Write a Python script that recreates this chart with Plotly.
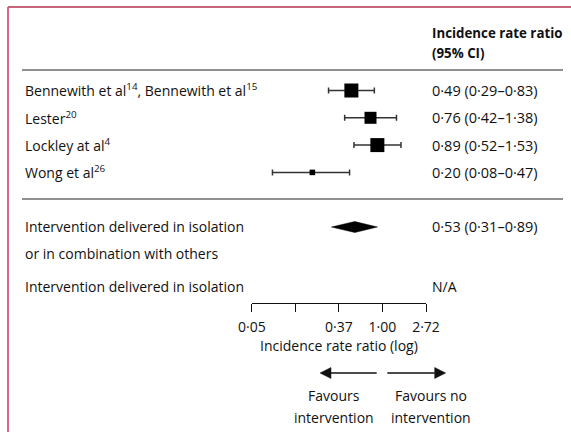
import math
import plotly.graph_objects as go

# ---------------- data ----------------
studies = [
    "Bennewith et al<sup>14</sup>, Bennewith et al<sup>15</sup>",
    "Lester<sup>20</sup>",
    "Lockley at al<sup>4</sup>",
    "Wong et al<sup>26</sup>",
]
irr = [0.49, 0.76, 0.89, 0.20]
ci_low = [0.29, 0.42, 0.52, 0.08]
ci_high = [0.83, 1.38, 1.53, 0.47]
weights = [34.6, 25.4, 34.6, 5.4]  # relative study weights (%)

pooled_label = ["Intervention delivered in isolation", "or in combination with others"]
pooled_irr = 0.53
pooled_low = 0.31
pooled_high = 0.89

isolation_label = "Intervention delivered in isolation"
isolation_value = "N/A"

tick_values = [math.exp(-3), math.exp(-1), 1.0, math.exp(1)]
tick_labels = ["0·05", "0·37", "1·00", "2·72"]
minor_tick_values = [math.exp(-2)]
header = ["Incidence rate ratio", "(95% CI)"]
axis_title = "Incidence rate ratio (log)"
favours_left = ["Favours", "intervention"]
favours_right = ["Favours no", "intervention"]

# ---------------- layout helpers ----------------
W, H = 571, 432
FONT = "Open Sans"
FS = 14
FS_NUM = 14.5
TXT = "#111111"
ROW0, ROWH = 90.5, 27.3


def px(x):
    return x / W


def py(y):
    return 1 - y / H


def fmt(v):
    return f"{v:.2f}".replace(".", "·")


fig = go.Figure()

rows = list(range(len(studies)))
pooled_row = 5

# confidence intervals
fig.add_trace(go.Scatter(
    x=irr, y=rows, mode="markers",
    marker=dict(size=1, color="rgba(0,0,0,0)"),
    error_x=dict(type="data", symmetric=False,
                 array=[h - v for h, v in zip(ci_high, irr)],
                 arrayminus=[v - l for v, l in zip(irr, ci_low)],
                 color="#333333", thickness=1.5, width=3),
    hoverinfo="skip",
))
# point estimates, sized by weight
fig.add_trace(go.Scatter(
    x=irr, y=rows, mode="markers",
    marker=dict(symbol="square", color="#000000", opacity=1,
                size=[2.38 * math.sqrt(w) for w in weights], line=dict(width=0)),
    hoverinfo="skip",
))

# pooled diamond
dh = 5.5 / ROWH
fig.add_trace(go.Scatter(
    x=[pooled_low, pooled_irr, pooled_high, pooled_irr, pooled_low],
    y=[pooled_row, pooled_row - dh, pooled_row, pooled_row + dh, pooled_row],
    mode="lines", fill="toself", fillcolor="black",
    line=dict(color="black", width=0.5), hoverinfo="skip",
))

shapes = [
    # frame
    dict(type="line", xref="paper", yref="paper", x0=px(8), x1=1, y0=py(7), y1=py(7),
         line=dict(color="#b5304f", width=1.5)),
    dict(type="line", xref="paper", yref="paper", x0=px(8), x1=px(8), y0=py(7), y1=0,
         line=dict(color="#d9668a", width=2)),
    # rules
    dict(type="line", xref="paper", yref="paper", x0=px(22), x1=px(563), y0=py(70), y1=py(70),
         line=dict(color="#222", width=1.2)),
    dict(type="line", xref="paper", yref="paper", x0=px(22), x1=px(563), y0=py(199), y1=py(199),
         line=dict(color="#222", width=1.2)),
    # null line
    dict(type="line", xref="x", yref="paper", x0=math.log10(1.0), x1=math.log10(1.0),
         y0=py(71), y1=py(303), line=dict(color="#111", width=1.2, dash="3px,2px")),
]

# direction arrows (line + filled head)
AY = 373
HEAD_L, HEAD_W = 11, 5.5
for tip, tail in [(320, 376.7), (445.7, 387.3)]:
    d = 1 if tail > tip else -1
    base = tip + d * HEAD_L
    shapes.append(dict(type="line", xref="paper", yref="paper",
                       x0=px(base), x1=px(tail), y0=py(AY), y1=py(AY),
                       line=dict(color="#111", width=1.5)))
    shapes.append(dict(type="path", xref="paper", yref="paper",
                       path=(f"M{px(tip)},{py(AY)} L{px(base)},{py(AY - HEAD_W)} "
                             f"L{px(base)},{py(AY + HEAD_W)} Z"),
                       fillcolor="#111", line=dict(color="#111", width=0.5)))

ann = []


def text(s, x, y, anchor="left", bold=False, size=FS):
    ann.append(dict(text=f"<b>{s}</b>" if bold else s, x=px(x), y=py(y),
                    xref="paper", yref="paper", xanchor=anchor, yanchor="middle",
                    showarrow=False, font=dict(family=FONT, size=size, color=TXT)))


text(header[0], 430, 33, bold=True, size=13.3)
text(header[1], 430, 53, bold=True, size=13.3)
for i, s in enumerate(studies):
    ypx = ROW0 + ROWH * i
    text(s, 23, ypx)
    text(f"{fmt(irr[i])} ({fmt(ci_low[i])}–{fmt(ci_high[i])})", 430, ypx, size=FS_NUM)
text(pooled_label[0], 23, 227)
text(pooled_label[1], 23, 253)
text(f"{fmt(pooled_irr)} ({fmt(pooled_low)}–{fmt(pooled_high)})", 430, 227, size=FS_NUM)
text(isolation_label, 23, 286)
text(isolation_value, 430, 286)

text(favours_left[0], 334, 395, anchor="center")
text(favours_left[1], 334, 417, anchor="center")
text(favours_right[0], 431, 395, anchor="center")
text(favours_right[1], 431, 417, anchor="center")

fig.update_layout(
    width=W, height=H, margin=dict(l=0, r=0, t=0, b=0, pad=0, autoexpand=False),
    paper_bgcolor="white", plot_bgcolor="white", showlegend=False,
    shapes=shapes, annotations=ann,
    xaxis=dict(
        type="log", domain=[251.8 / W, 426 / W], automargin=False,
        range=[math.log10(tick_values[0]), math.log10(tick_values[-1])],
        anchor="free", position=py(303),
        showline=True, linecolor="#111", linewidth=1.2,
        ticks="outside", ticklen=8, tickwidth=1.2, tickcolor="#111",
        tickvals=tick_values, ticktext=tick_labels,
        minor=dict(tickvals=minor_tick_values, ticks="outside", ticklen=8,
                   tickwidth=1.2, tickcolor="#111", showgrid=False),
        tickfont=dict(family=FONT, size=FS, color=TXT), ticklabelstandoff=3,
        showgrid=False, zeroline=False,
        title=dict(text=axis_title, font=dict(family=FONT, size=FS, color=TXT), standoff=4),
    ),
    yaxis=dict(range=[(H - ROW0) / ROWH, -ROW0 / ROWH], visible=False,
               domain=[0, 1], automargin=False),
)

fig.write_html("out.html")
